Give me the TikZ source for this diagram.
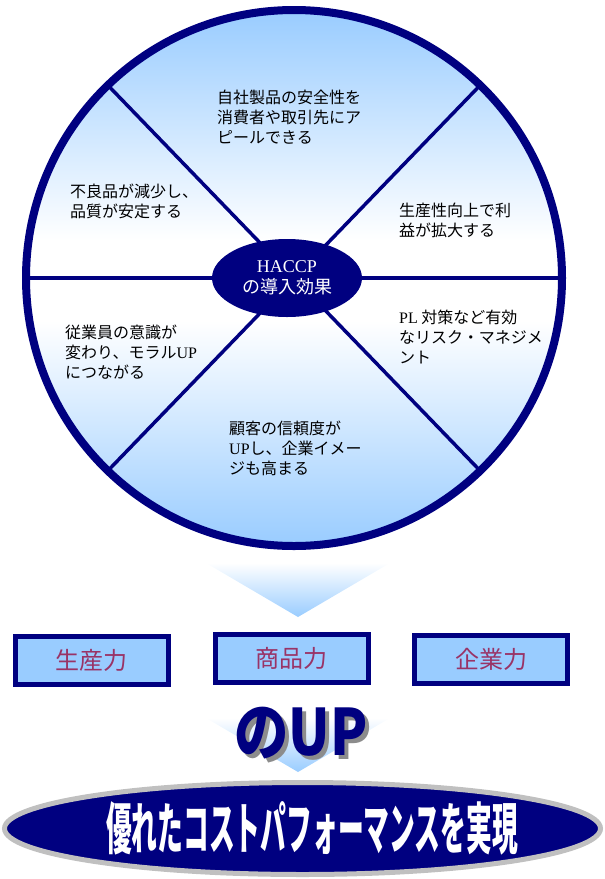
\documentclass[tikz,border=0pt]{standalone}
\usepackage{fontspec}
\usepackage{graphicx}
\setmainfont{Liberation Serif}
\newfontfamily\jp{Noto Sans CJK JP}
\newfontfamily\latf{Liberation Serif}
\newcommand{\lat}[1]{{\latf #1}}
\usetikzlibrary{shapes.geometric}
\definecolor{hnavy}{HTML}{000080}
\definecolor{hblue}{HTML}{99CCFF}
\definecolor{hred}{HTML}{993366}
\definecolor{hgray}{HTML}{C0C0C0}
\definecolor{hshadow}{HTML}{8C8C8C}
\pgfdeclareverticalshading{circshade}{100bp}{color(0bp)=(hblue); color(25bp)=(hblue); color(46bp)=(white); color(53.5bp)=(white); color(75bp)=(hblue); color(100bp)=(hblue)}
\tikzset{
  divline/.style={draw=hnavy, line width=3.5},
  ctext/.style={anchor=west, inner sep=0, align=left, text=black, font=\jp\fontsize{16}{20}\selectfont},
  fbox/.style={rectangle, draw=hnavy, line width=5, fill=hblue, minimum width=153, minimum height=48, inner sep=0, text=hred, font=\jp\fontsize{24}{24}\selectfont},
}
\newcommand{\upword}{\scalebox{0.85}[1]{のUP}}
\begin{document}
\begin{tikzpicture}[x=1pt, y=-1pt]
\useasboundingbox (0,0) rectangle (605,879);
% wheel
\coordinate (c) at (294,278);
\shade[shading=circshade] (c) circle[radius=268];
\path (c) ++(0:268) coordinate (h2);
\path (c) ++(180:268) coordinate (h1);
\path (c) ++(46:268) coordinate (d1);
\path (c) ++(134:268) coordinate (d2);
\path (c) ++(226:268) coordinate (d3);
\path (c) ++(314:268) coordinate (d4);
\draw[divline] (h1) -- (h2);
\draw[divline] (c) -- (d1);
\draw[divline] (c) -- (d2);
\draw[divline] (c) -- (d3);
\draw[divline] (c) -- (d4);
\draw[hnavy, line width=8] (c) circle[radius=268];
\node[ellipse, fill=hnavy, minimum width=150, minimum height=78, inner sep=0, text=white, align=center, font=\jp\fontsize{18}{21}\selectfont] (haccp) at (287,278) {\lat{HACCP}\\の導入効果};
% texts
\node[ctext] (t1) at (217,117) {自社製品の安全性を\\消費者や取引先にア\\ピールできる};
\node[ctext] (t2) at (70,201.5) {不良品が減少し、\\品質が安定する};
\node[ctext] (t3) at (399,220.5) {生産性向上で利\\益が拡大する};
\node[ctext] (t4) at (65,352) {従業員の意識が\\変わり、モラル\lat{UP}\\につながる};
\node[ctext] (t5) at (399,337) {\lat{PL} 対策など有効\\なリスク・マネジメ\\ント};
\node[ctext] (t6) at (229,448) {顧客の信頼度が\\\lat{UP}し、企業イメー\\ジも高まる};
% chevrons
\shade[top color=white, bottom color=hblue] (206,563) -- (390,563) -- (298,617) -- cycle;
\shade[top color=white, bottom color=hblue] (206,718) -- (390,718) -- (298,772) -- cycle;
% boxes
\node[fbox] (b1) at (92,660.5) {生産力};
\node[fbox] (b2) at (291.5,658.5) {商品力};
\node[fbox] (b3) at (491,659.5) {企業力};
% UP with shadow
\node[inner sep=0, font=\jp\bfseries\fontsize{64}{64}\selectfont] (up) at (301,735) {\rlap{\kern4pt\raisebox{-4pt}{\textcolor{hshadow}{\upword}}}\textcolor{hnavy}{\upword}};
% goal
\node[ellipse, draw=hgray, line width=5, fill=hnavy, minimum width=596, minimum height=92, inner sep=0] (goal) at (302.5,828.5) {};
\node[inner sep=0, text=white, font=\jp\bfseries\fontsize{56}{56}\selectfont] (goaltext) at (312,828) {\scalebox{0.46}[1]{優れたコストパフォーマンスを実現}};
\end{tikzpicture}
\end{document}
